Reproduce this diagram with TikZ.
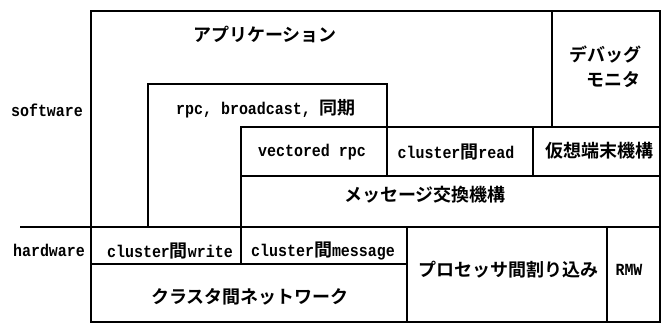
\documentclass[tikz,border=0pt]{standalone}
\usepackage{fontspec}
\setmainfont{Liberation Mono}[FakeStretch=0.88]
\newfontfamily\jpf{Noto Sans CJK JP}[BoldFont={Noto Sans CJK JP Bold}]
\newcommand{\J}[1]{{\fontsize{18}{18}\selectfont\jpf\bfseries #1}}
\begin{document}
\begin{tikzpicture}[x=1pt,y=-1pt,
  outer/.style={line width=1.8pt},
  inner/.style={line width=1.3pt},
  lbl/.style={inner sep=0pt,font=\fontsize{17}{17}\selectfont\bfseries},
  jlbl/.style={inner sep=0pt,font=\fontsize{18}{18}\selectfont\jpf\bfseries}]
\useasboundingbox (0,0) rectangle (663,324);
% frame and dividers
\draw[outer] (91,11) rectangle (660,322);
\draw[inner] (552,11) -- (552,127);
\draw[inner] (148,227) -- (148,84) -- (387,84) -- (387,176);
\draw[inner] (241,264) -- (241,127) -- (660,127);
\draw[inner] (241,176) -- (660,176);
\draw[inner] (533,127) -- (533,176);
\draw[inner] (20,227) -- (660,227);
\draw[inner] (91,264) -- (407,264);
\draw[inner] (407,227) -- (407,322);
\draw[inner] (607,227) -- (607,322);
% labels
\node[lbl] (sw) at (47,110) {software};
\node[lbl] (hw) at (49,250) {hardware};
\node[jlbl] (app) at (265,34) {アプリケーション};
\node[jlbl] (dbg1) at (605,55) {デバッグ};
\node[jlbl] (dbg2) at (613,80) {モニタ};
\node[lbl] (rpc) at (266,109) {rpc, broadcast, \J{同期}};
\node[lbl] (vrpc) at (312,152) {vectored rpc};
\node[lbl] (cread) at (456,152) {cluster\J{間}read};
\node[jlbl] (vterm) at (599,151) {仮想端末機構};
\node[jlbl] (msg) at (425,195) {メッセージ交換機構};
\node[lbl] (cwrite) at (170,251) {cluster\J{間}write};
\node[lbl] (cmsg) at (323,251) {cluster\J{間}message};
\node[jlbl] (pint) at (508,270) {プロセッサ間割り込み};
\node[lbl] (rmw) at (629,270) {RMW};
\node[jlbl] (net) at (250,297) {クラスタ間ネットワーク};
\end{tikzpicture}
\end{document}
